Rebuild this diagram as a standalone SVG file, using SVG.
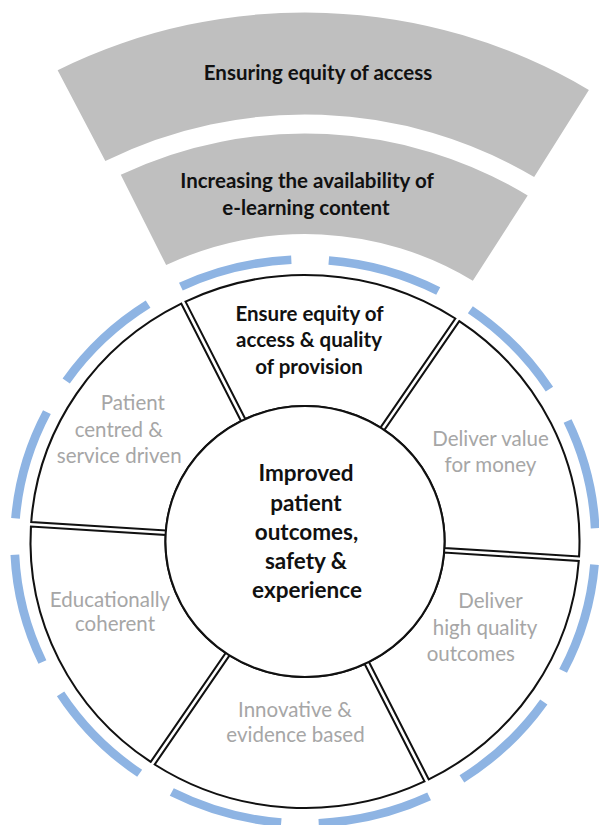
<svg xmlns="http://www.w3.org/2000/svg" xmlns:xlink="http://www.w3.org/1999/xlink" width="599" height="825" viewBox="0 0 599 825">
<style>
.band{fill:#bfbfbf}
.dash{fill:none;stroke:#8eb4e3;stroke-width:8.5}
.seg{fill:#fff;stroke:#111;stroke-width:2}
.t{font-family:Lato,"Open Sans","DejaVu Sans",sans-serif;text-anchor:middle}
.b{font-weight:bold;fill:#111;font-size:20.5px}
.c{font-weight:bold;fill:#111;font-size:22.5px}
.g{fill:#a6a6a6;font-size:20.5px}
</style>
<defs>
<path id="segShape" d="M -131.25,-231.94 A 266.5 266.5 0 0 1 131.25,-231.94 L 65.75,-118.48 A 135.5 135.5 0 0 0 -65.75,-118.48 Z"/>
<path id="dashArc" d="M -55.26,-276.53 A 282 282 0 0 1 55.26,-276.53"/>
</defs>
<rect width="599" height="825" fill="#fff"/>

<g id="band-equity">
<path class="band" transform="translate(305,541.5) scale(1.03,1)" d="M -240.16,-471.34 A 529 529 0 0 1 275.61,-451.53 L 222.47,-364.47 A 427 427 0 0 0 -193.85,-380.46 Z"/>
<text class="t b" x="318" y="80">Ensuring equity of access</text>
</g>
<g id="band-elearning">
<path class="band" transform="translate(305,541.5) scale(1.03,1)" d="M -178.85,-366.71 A 408 408 0 0 1 216.21,-346.00 L 162.95,-260.78 A 307.5 307.5 0 0 0 -134.80,-276.38 Z"/>
<text class="t b" x="307" y="188">Increasing the availability of</text>
<text class="t b" x="306" y="215">e-learning content</text>
</g>

<g id="outer-ring" transform="translate(305,541.5) scale(1.03,1)">
<use xlink:href="#dashArc" class="dash" transform="rotate(-14)"/>
<use xlink:href="#dashArc" class="dash" transform="rotate(16)"/>
<use xlink:href="#dashArc" class="dash" transform="rotate(46)"/>
<use xlink:href="#dashArc" class="dash" transform="rotate(76)"/>
<use xlink:href="#dashArc" class="dash" transform="rotate(106)"/>
<use xlink:href="#dashArc" class="dash" transform="rotate(136)"/>
<use xlink:href="#dashArc" class="dash" transform="rotate(166)"/>
<use xlink:href="#dashArc" class="dash" transform="rotate(196)"/>
<use xlink:href="#dashArc" class="dash" transform="rotate(226)"/>
<use xlink:href="#dashArc" class="dash" transform="rotate(256)"/>
<use xlink:href="#dashArc" class="dash" transform="rotate(286)"/>
<use xlink:href="#dashArc" class="dash" transform="rotate(316)"/>
</g>

<g id="seg-equity">
<use xlink:href="#segShape" class="seg" transform="translate(305,541.5) scale(1.03,1) rotate(3.7)"/>
<text class="t b" x="309.5" y="320.7">Ensure equity of</text>
<text class="t b" x="309" y="347.3">access &amp; quality</text>
<text class="t b" x="309" y="373.5">of provision</text>
</g>
<g id="seg-value">
<use xlink:href="#segShape" class="seg" transform="translate(305,541.5) scale(1.03,1) rotate(63.7)"/>
<text class="t g" x="490.5" y="446">Deliver value</text>
<text class="t g" x="490.5" y="471.7">for money</text>
</g>
<g id="seg-quality">
<use xlink:href="#segShape" class="seg" transform="translate(305,541.5) scale(1.03,1) rotate(123.7)"/>
<text class="t g" x="490.5" y="608.3">Deliver</text>
<text class="t g" x="485" y="635">high quality</text>
<text class="t g" x="470.8" y="660.7">outcomes</text>
</g>
<g id="seg-innovative">
<use xlink:href="#segShape" class="seg" transform="translate(305,541.5) scale(1.03,1) rotate(183.7)"/>
<text class="t g" x="295" y="716.7">Innovative &amp;</text>
<text class="t g" x="295.5" y="742.3">evidence based</text>
</g>
<g id="seg-educational">
<use xlink:href="#segShape" class="seg" transform="translate(305,541.5) scale(1.03,1) rotate(243.7)"/>
<text class="t g" x="110" y="606.7">Educationally</text>
<text class="t g" x="115" y="630.5">coherent</text>
</g>
<g id="seg-patient">
<use xlink:href="#segShape" class="seg" transform="translate(305,541.5) scale(1.03,1) rotate(303.7)"/>
<text class="t g" x="132.8" y="410">Patient</text>
<text class="t g" x="118.8" y="436.7">centred &amp;</text>
<text class="t g" x="119.2" y="463.3">service driven</text>
</g>

<g id="center">
<circle class="seg" r="135.5" transform="translate(305,541.5) scale(1.03,1)"/>
<text class="t c" x="306" y="480.7">Improved</text>
<text class="t c" x="306" y="510.5">patient</text>
<text class="t c" x="306.5" y="540">outcomes,</text>
<text class="t c" x="306" y="569">safety &amp;</text>
<text class="t c" x="307" y="598.3">experience</text>
</g>
</svg>
